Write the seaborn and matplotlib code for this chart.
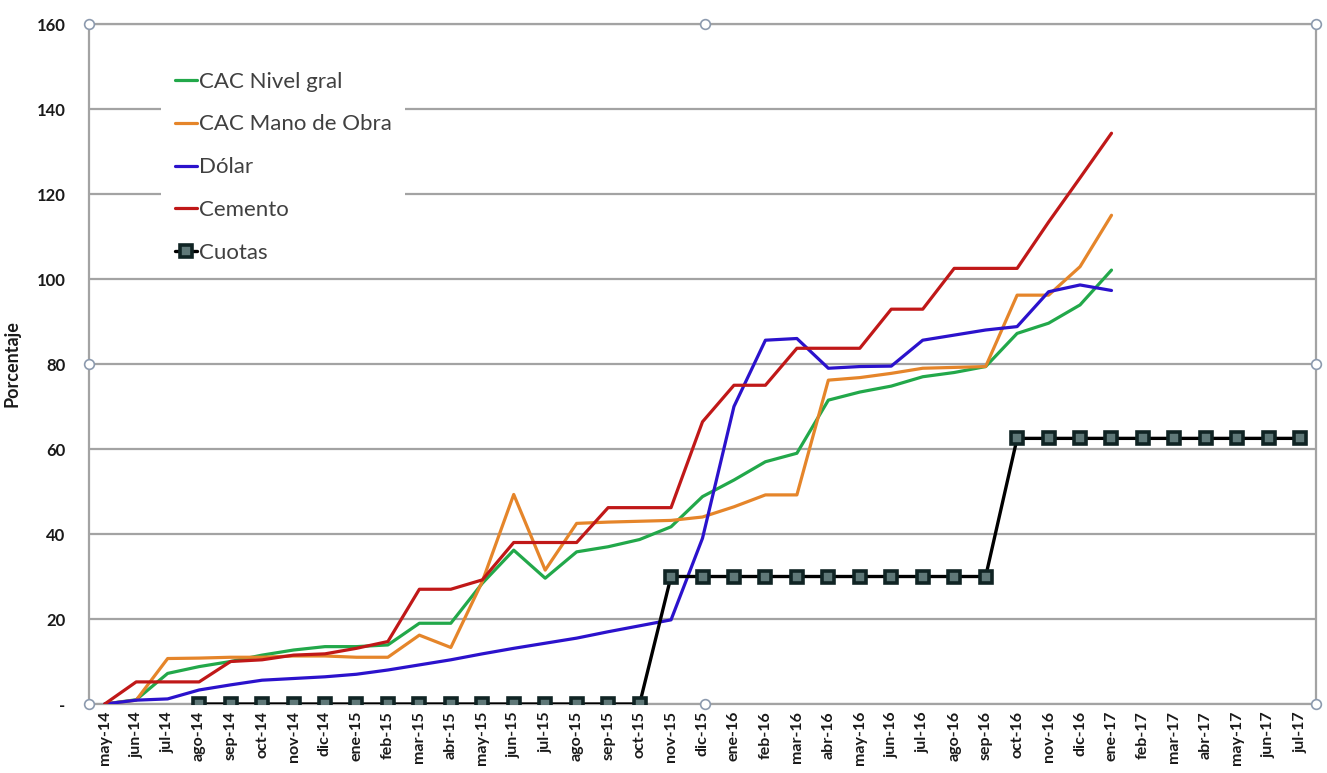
import numpy as np
import pandas as pd
import matplotlib
matplotlib.use("Agg")
import matplotlib.pyplot as plt
from matplotlib.lines import Line2D
import seaborn as sns

# Month labels (category axis)
months = ["may-14", "jun-14", "jul-14", "ago-14", "sep-14", "oct-14", "nov-14", "dic-14",
          "ene-15", "feb-15", "mar-15", "abr-15", "may-15", "jun-15", "jul-15", "ago-15",
          "sep-15", "oct-15", "nov-15", "dic-15", "ene-16", "feb-16", "mar-16", "abr-16",
          "may-16", "jun-16", "jul-16", "ago-16", "sep-16", "oct-16", "nov-16", "dic-16",
          "ene-17", "feb-17", "mar-17", "abr-17", "may-17", "jun-17", "jul-17"]

# Accumulated variation (%) from may-14
cac_nivel_gral = [0, 1, 7.2, 8.8, 10, 11.5, 12.7, 13.5, 13.5, 13.9,
                  19, 19, 28.4, 36.2, 29.6, 35.8, 37, 38.7, 41.7, 48.8,
                  52.7, 57, 59, 71.5, 73.4, 74.8, 77, 78, 79.4, 87.2,
                  89.6, 93.9, 102.1]
cac_mano_obra = [0, 0.9, 10.7, 10.8, 11, 11, 11.3, 11.3, 11, 11,
                 16.2, 13.3, 28.8, 49.3, 31.5, 42.5, 42.8, 43, 43.2, 44,
                 46.4, 49.2, 49.2, 76.2, 76.8, 77.8, 79, 79.2, 79.4, 96.2,
                 96.2, 102.9, 115]
dolar = [0, 0.9, 1.2, 3.3, 4.5, 5.6, 6, 6.4, 7, 8,
         9.2, 10.4, 11.8, 13.1, 14.3, 15.5, 17, 18.4, 19.8, 39,
         70, 85.6, 86, 79, 79.4, 79.5, 85.6, 86.8, 88, 88.8,
         97, 98.6, 97.3]
cemento = [0, 5.2, 5.2, 5.2, 10, 10.4, 11.5, 11.8, 13.1, 14.7,
           27, 27, 29.2, 38, 38, 38, 46.2, 46.2, 46.2, 66.4,
           75, 75, 83.7, 83.7, 83.7, 92.9, 92.9, 102.5, 102.5, 102.5,
           113.4, 123.8, 134.3]
# Instalment increases, first value in ago-14
cuotas_start = "ago-14"
cuotas = [0, 0, 0, 0, 0, 0, 0, 0, 0, 0, 0, 0, 0, 0, 0,
          30, 30, 30, 30, 30, 30, 30, 30, 30, 30, 30,
          62.5, 62.5, 62.5, 62.5, 62.5, 62.5, 62.5, 62.5, 62.5, 62.5]

series_names = ["CAC Nivel gral", "CAC Mano de Obra", "Dólar", "Cemento", "Cuotas"]
series_colors = ["#22a84a", "#e5852a", "#2b12cc", "#c01818", "#000000"]

# Long-format table
rows = []
for name, vals, start in [("CAC Nivel gral", cac_nivel_gral, 0),
                          ("CAC Mano de Obra", cac_mano_obra, 0),
                          ("Dólar", dolar, 0),
                          ("Cemento", cemento, 0),
                          ("Cuotas", cuotas, months.index(cuotas_start))]:
    for k, v in enumerate(vals):
        rows.append({"serie": name, "pos": start + k, "mes": months[start + k], "valor": v})
df = pd.DataFrame(rows)

sns.set_theme(style="white")
plt.rcParams["font.family"] = ["Lato", "DejaVu Sans"]

fig = plt.figure(figsize=(13.27, 7.73), dpi=100)
fig.patch.set_facecolor("white")
ax = fig.add_axes([0.06707, 0.08926, 0.92464, 0.87969])

grid_col = "#a3a3a3"
for name, col in zip(series_names, series_colors):
    sub = df[df["serie"] == name]
    if name == "Cuotas":
        sns.lineplot(data=sub, x="pos", y="valor", ax=ax, color=col, lw=2.4,
                     marker="s", markersize=8.5, markerfacecolor="#5f7878",
                     markeredgecolor="#102424", markeredgewidth=2.6,
                     sort=False, label=name, zorder=5)
    else:
        sns.lineplot(data=sub, x="pos", y="valor", ax=ax, color=col, lw=2.3,
                     sort=False, label=name, zorder=4)

ax.set_xlim(-0.5, len(months) - 0.5)
ax.set_ylim(0, 160)
ax.set_yticks(np.arange(0, 161, 20))
ax.set_yticklabels(["-"] + [str(v) for v in range(20, 161, 20)],
                   fontsize=12, fontweight="bold", color="#1a1a1a")
ax.set_xticks(range(len(months)))
ax.set_xticklabels(months, rotation=90, fontsize=11.5, fontweight="bold", color="#1a1a1a")
ax.tick_params(axis="y", length=0, pad=17)
ax.tick_params(axis="x", length=0, pad=5)

ax.yaxis.grid(True, color=grid_col, lw=1.6, zorder=0)
ax.set_axisbelow(True)
for s in ax.spines.values():
    s.set_color(grid_col)
    s.set_linewidth(1.6)

ax.set_xlabel("")
ax.set_ylabel("Porcentaje", fontsize=13, fontweight="bold", color="#1a1a1a")
ax.yaxis.set_label_coords(-0.056, 0.5)

# Legend inside the plot, top-left, on a white box without border
handles = []
for name, col in zip(series_names, series_colors):
    if name == "Cuotas":
        handles.append(Line2D([], [], color=col, lw=2.4, marker="s", markersize=8.5,
                              markerfacecolor="#5f7878", markeredgecolor="#102424",
                              markeredgewidth=2.6))
    else:
        handles.append(Line2D([], [], color=col, lw=2.3))
leg = ax.legend(handles, series_names, loc="upper left", bbox_to_anchor=(0.050, 0.966),
                frameon=True, fancybox=False, fontsize=16, handlelength=1.0,
                handletextpad=0.1, labelspacing=1.03, borderpad=0.6)
leg.get_frame().set_facecolor("white")
leg.get_frame().set_edgecolor("none")
leg.get_frame().set_alpha(1)
for t in leg.get_texts():
    t.set_color("#404040")

# Chart-area handles at corners and mid-edges
hx = [0, 0.502, 1, 0, 1, 0, 0.502, 1]
hy = [1, 1, 1, 0.5, 0.5, 0, 0, 0]
ax.plot(hx, hy, linestyle="none", marker="o", markersize=7, markerfacecolor="white",
        markeredgecolor="#8c9aae", markeredgewidth=1.2, transform=ax.transAxes,
        clip_on=False, zorder=10)

fig.savefig("out.png", dpi=100, facecolor="white")
